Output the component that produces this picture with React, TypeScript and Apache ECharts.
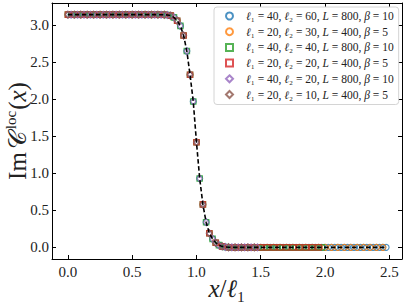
import React, { useEffect, useRef } from "react";
import * as echarts from "echarts";

// ---- data ----
const X_TICKS = [0, 0.5, 1, 1.5, 2, 2.5];
const Y_TICKS = [0, 0.5, 1, 1.5, 2, 2.5, 3];
const X_MIN = -0.12375;
const X_MAX = 2.59875;
const Y_MIN = -0.157;
const Y_MAX = 3.299;

// curve values, at x = k * 0.025 (k = 0..99)
const BASE_STEP = 0.025;
const CURVE = [
  3.1416, 3.1416, 3.1416, 3.1416, 3.1416, 3.1416, 3.1416, 3.1416, 3.1416, 3.1416,
  3.1416, 3.1416, 3.1416, 3.1416, 3.1416, 3.1416, 3.1416, 3.1416, 3.1416, 3.1416,
  3.1416, 3.1416, 3.1416, 3.1416, 3.1416, 3.1416, 3.1416, 3.1415, 3.1413, 3.141,
  3.14, 3.137, 3.128, 3.105, 3.06, 2.99, 2.86, 2.65, 2.33, 1.97,
  1.42, 0.93, 0.58, 0.34, 0.19, 0.115, 0.062, 0.03, 0.013, 0.005,
  0.002, 0.001, 0, 0, 0, 0, 0, 0, 0, 0,
  0, 0, 0, 0, 0, 0, 0, 0, 0, 0,
  0, 0, 0, 0, 0, 0, 0, 0, 0, 0,
  0, 0, 0, 0, 0, 0, 0, 0, 0, 0,
  0, 0, 0, 0, 0, 0, 0, 0, 0, 0,
];

const L1 = [40, 20, 40, 20, 40, 20];
const L2 = [60, 30, 40, 20, 20, 10];
const LSYS = [800, 400, 800, 400, 800, 400];
const BETA = [10, 5, 10, 5, 10, 5];

// ---- styles ----
const COLORS = ["#1f77b4", "#ff7f0e", "#2ca02c", "#d62728", "#9467bd", "#8c564b"];
const SYMBOLS = ["circle", "circle", "rect", "rect", "diamond", "diamond"];
const SYMBOL_SIZES: any[] = [6, 6, 5.5, 5.5, [5, 7], [5, 7]];
const SERIF = "'Liberation Serif', 'DejaVu Serif', serif";

function seriesName(i: number) {
  return `ℓ₁ = ${L1[i]}, ℓ₂ = ${L2[i]}, L = ${LSYS[i]}, β = ${BETA[i]}`;
}

function seriesData(i: number) {
  const n = L1[i] + L2[i];
  const stride = Math.round(1 / (L1[i] * BASE_STEP));
  const pts: number[][] = [];
  for (let j = 0; j < n; j++) {
    pts.push([j / L1[i], CURVE[j * stride]]);
  }
  return pts;
}

function lineData() {
  return CURVE.map((v, k) => [k * BASE_STEP, v]);
}

export default function App() {
  const ref = useRef<HTMLDivElement>(null);

  useEffect(() => {
    if (!ref.current) return;
    const chart = echarts.init(ref.current, undefined, { renderer: "svg" });

    const scatter = L1.map((_, i) => ({
      type: "scatter",
      name: seriesName(i),
      data: seriesData(i),
      symbol: SYMBOLS[i],
      symbolSize: SYMBOL_SIZES[i],
      itemStyle: {
        color: "rgba(255,255,255,0)",
        borderColor: COLORS[i],
        borderWidth: 1.1,
        opacity: 0.8,
      },
      emphasis: { disabled: true },
      z: 2 + i,
    }));

    const legendRich = {
      m: { fontFamily: SERIF, fontStyle: "italic", fontSize: 11.5, color: "#222" },
      n: { fontFamily: SERIF, fontSize: 11.5, color: "#222" },
    };

    const legendFormatter = (name: string) => {
      const i = L1.findIndex((_, k) => seriesName(k) === name);
      return (
        `{m|ℓ}{n|₁ = ${L1[i]}, }{m|ℓ}{n|₂ = ${L2[i]}, }` +
        `{m|L}{n| = ${LSYS[i]}, }{m|β}{n| = ${BETA[i]}}`
      );
    };

    const axisCommon = {
      type: "value",
      axisLine: { show: true, onZero: false, lineStyle: { color: "#000", width: 1 } },
      axisTick: { show: true, inside: true, length: 4, lineStyle: { color: "#000", width: 1 } },
      splitLine: { show: false },
    };

    chart.setOption({
      animation: false,
      backgroundColor: "#fff",
      grid: { left: 52, right: 5, top: 3, bottom: 46, containLabel: false, outerBoundsMode: "none" },
      legend: {
        orient: "vertical",
        left: 214,
        top: 7,
        padding: [3, 5, 4, 11],
        itemWidth: 7,
        itemHeight: 7,
        itemGap: 3.7,
        backgroundColor: "rgba(255,255,255,0.85)",
        borderColor: "#d4d4d4",
        borderWidth: 1,
        borderRadius: 3,
        formatter: legendFormatter,
        textStyle: { fontFamily: SERIF, fontSize: 11.5, lineHeight: 12, padding: [0, 0, 0, 8], rich: legendRich },
        data: L1.map((_, i) => seriesName(i)),
      },
      xAxis: [
        {
          ...axisCommon,
          position: "bottom",
          min: X_MIN,
          max: X_MAX,
          axisTick: { ...axisCommon.axisTick, customValues: X_TICKS },
          axisLabel: {
            customValues: X_TICKS,
            formatter: (v: number) => v.toFixed(1),
            fontFamily: SERIF,
            fontSize: 15,
            color: "#222",
            margin: 5,
          },
          name: "{i|x}{r|/}{i|ℓ}{r|₁}",
          nameLocation: "middle",
          nameGap: 17,
          nameMoveOverlap: false,
          nameTextStyle: {
            rich: {
              i: { fontFamily: SERIF, fontStyle: "italic", fontSize: 25, color: "#222" },
              r: { fontFamily: SERIF, fontSize: 25, color: "#222" },
            },
          },
        },
        {
          ...axisCommon,
          position: "top",
          min: X_MIN,
          max: X_MAX,
          axisTick: { ...axisCommon.axisTick, customValues: X_TICKS },
          axisLabel: { show: false },
        },
      ],
      yAxis: [
        {
          ...axisCommon,
          position: "left",
          min: Y_MIN,
          max: Y_MAX,
          axisTick: { ...axisCommon.axisTick, customValues: Y_TICKS },
          axisLabel: {
            customValues: Y_TICKS,
            formatter: (v: number) => v.toFixed(1),
            fontFamily: SERIF,
            fontSize: 15,
            color: "#222",
            margin: 3,
          },
          name: "{r|Im}{c|𝒞}{s|loc}{r|(}{i|x}{r|)}",
          nameLocation: "middle",
          nameRotate: 90,
          nameGap: 21,
          nameMoveOverlap: false,
          nameTextStyle: {
            rich: {
              r: { fontFamily: SERIF, fontSize: 25, lineHeight: 28, color: "#222" },
              c: { fontFamily: SERIF, fontSize: 25, lineHeight: 28, color: "#222", padding: [0, 2, 0, 3] },
              i: { fontFamily: SERIF, fontStyle: "italic", fontSize: 25, lineHeight: 28, color: "#222" },
              s: { fontFamily: SERIF, fontSize: 15, lineHeight: 15, verticalAlign: "top", color: "#222", padding: [0, 1, 0, 0] },
            },
          },
        },
        {
          ...axisCommon,
          position: "right",
          min: Y_MIN,
          max: Y_MAX,
          axisTick: { ...axisCommon.axisTick, customValues: Y_TICKS },
          axisLabel: { show: false },
        },
      ],
      series: [
        ...scatter,
        {
          type: "line",
          name: "theory",
          data: lineData(),
          showSymbol: false,
          symbol: "none",
          lineStyle: { color: "#000", width: 1.6, type: [4.5, 2.5] },
          emphasis: { disabled: true },
          z: 20,
        },
      ],
    });

    return () => chart.dispose();
  }, []);

  return (
    <div
      ref={ref}
      style={{ position: "fixed", left: 0, top: 0, width: 407, height: 305 }}
    />
  );
}
